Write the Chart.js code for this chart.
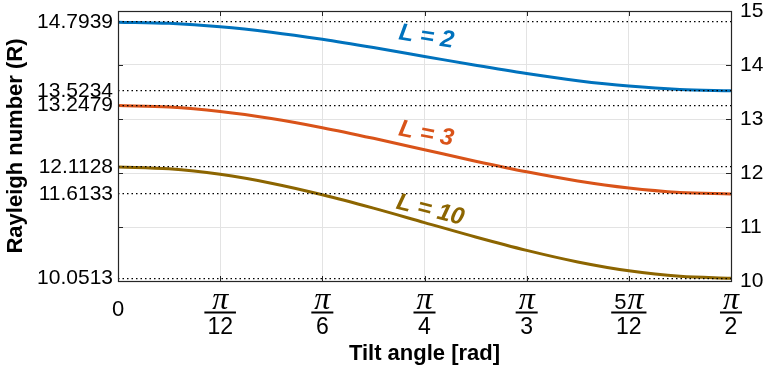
<!DOCTYPE html>
<html>
<head>
<meta charset="utf-8">
<script src="https://cdn.jsdelivr.net/npm/chart.js@4"></script>
<style>
  html, body { margin: 0; padding: 0; background: #fff; }
</style>
</head>
<body>
<canvas id="rayleighChart" width="768" height="368"></canvas>
<script>
// tilt angle samples [rad], every pi/24
const tilt = [0, 0.1309, 0.2618, 0.3927, 0.5236, 0.6545, 0.7854, 0.9163, 1.0472, 1.1781, 1.3090, 1.4399, 1.5708];

// critical Rayleigh number for each L
const rayleighL2 = [14.7939, 14.772, 14.709, 14.608, 14.476, 14.323, 14.159, 13.994, 13.841, 13.710, 13.609, 13.545, 13.5234];
const rayleighL3 = [13.2479, 13.220, 13.138, 13.009, 12.839, 12.642, 12.431, 12.219, 12.022, 11.853, 11.723, 11.641, 11.6133];
const rayleighL10 = [12.1128, 12.078, 11.975, 11.811, 11.597, 11.349, 11.082, 10.815, 10.567, 10.353, 10.189, 10.086, 10.0513];

// left axis marks the end values of each curve, right axis is a plain scale
const leftTicks = [10.0513, 11.6133, 12.1128, 13.2479, 13.5234, 14.7939];
const rightTicks = [10, 11, 12, 13, 14, 15];
const xTicks = [0, Math.PI / 12, Math.PI / 6, Math.PI / 4, Math.PI / 3, 5 * Math.PI / 12, Math.PI / 2];
const xTickLabels = [['0'], ['π', '12'], ['π', '6'], ['π', '4'], ['π', '3'], ['5π', '12'], ['π', '2']];

const SANS = '"Liberation Sans", Arial, Helvetica, sans-serif';
const PI_FONT = 'italic 32px "Liberation Serif", "Times New Roman", serif';
const AXIS_COLOR = '#262626';

const blue = '#0072bd';
const orange = '#d95319';
const gold = '#8c6500';

// text placed along each curve
const curveLabels = [
  { text: 'L = 2', x: 0.79, y: 14.52, angle: 9, color: blue },
  { text: 'L = 3', x: 0.79, y: 12.72, angle: 11, color: orange },
  { text: 'L = 10', x: 0.80, y: 11.31, angle: 14, color: gold }
];

function curve(values, color) {
  return {
    data: tilt.map((t, i) => ({ x: t, y: values[i] })),
    borderColor: color,
    borderWidth: 3,
    pointRadius: 0,
    cubicInterpolationMode: 'monotone',
    yAxisID: 'y',
    order: 0
  };
}

const decor = {
  id: 'decor',
  afterDraw(chart) {
    const ctx = chart.ctx;
    const area = chart.chartArea;
    const xs = chart.scales.x;
    const ys = chart.scales.y2;
    ctx.save();

    // box around the plot
    ctx.strokeStyle = AXIS_COLOR;
    ctx.lineWidth = 1.2;
    ctx.strokeRect(Math.round(area.left) + 0.5, Math.round(area.top) + 0.5,
      Math.round(area.right - area.left), Math.round(area.bottom - area.top));

    // inward tick marks
    ctx.lineWidth = 1;
    ctx.beginPath();
    rightTicks.forEach(v => {
      const py = Math.round(ys.getPixelForValue(v)) + 0.5;
      ctx.moveTo(area.left, py); ctx.lineTo(area.left + 5, py);
      ctx.moveTo(area.right, py); ctx.lineTo(area.right - 5, py);
    });
    xTicks.forEach(v => {
      const px = Math.round(xs.getPixelForValue(v)) + 0.5;
      ctx.moveTo(px, area.top); ctx.lineTo(px, area.top + 5);
      ctx.moveTo(px, area.bottom); ctx.lineTo(px, area.bottom - 5);
    });
    ctx.stroke();

    // x tick labels as fractions of pi
    ctx.fillStyle = '#000';
    xTicks.forEach((v, i) => {
      const px = xs.getPixelForValue(v);
      const parts = xTickLabels[i];
      if (parts.length === 1) {
        ctx.font = '22px ' + SANS;
        ctx.textAlign = 'center';
        ctx.textBaseline = 'alphabetic';
        ctx.fillText(parts[0], px, 316);
        return;
      }
      const coef = parts[0].slice(0, -1);
      ctx.font = '22px ' + SANS;
      const cw = coef ? ctx.measureText(coef).width + 1 : 0;
      ctx.font = PI_FONT;
      const pw = ctx.measureText('π').width;
      const nw = cw + pw;
      ctx.font = '23px ' + SANS;
      const dw = ctx.measureText(parts[1]).width;
      const barW = Math.max(nw, dw) + 6;
      const sx = px - nw / 2;
      ctx.textAlign = 'left';
      ctx.textBaseline = 'alphabetic';
      if (coef) {
        ctx.font = '22px ' + SANS;
        ctx.fillText(coef, sx, 309);
      }
      ctx.font = PI_FONT;
      ctx.fillText('π', sx + cw, 309);
      ctx.fillRect(px - barW / 2, 311.5, barW, 2);
      ctx.textAlign = 'center';
      ctx.font = '23px ' + SANS;
      ctx.fillText(parts[1], px, 334);
    });

    // curve names
    ctx.font = 'italic bold 24px ' + SANS;
    ctx.textAlign = 'center';
    ctx.textBaseline = 'middle';
    curveLabels.forEach(l => {
      ctx.save();
      ctx.translate(xs.getPixelForValue(l.x), ys.getPixelForValue(l.y));
      ctx.rotate(l.angle * Math.PI / 180);
      ctx.fillStyle = l.color;
      ctx.fillText(l.text, 0, 0);
      ctx.restore();
    });
    ctx.restore();
  }
};

new Chart(document.getElementById('rayleighChart').getContext('2d'), {
  type: 'line',
  data: {
    datasets: [
      curve(rayleighL2, blue),
      curve(rayleighL3, orange),
      curve(rayleighL10, gold)
    ]
  },
  options: {
    responsive: false,
    animation: false,
    layout: { padding: { top: 11, left: 0, right: 0, bottom: 0 } },
    plugins: { legend: { display: false }, tooltip: { enabled: false } },
    scales: {
      x: {
        type: 'linear',
        min: 0,
        max: Math.PI / 2,
        afterBuildTicks: scale => { scale.ticks = xTicks.map(v => ({ value: v })); },
        afterFit: scale => { scale.height = 87; scale.paddingLeft = 0; scale.paddingRight = 0; },
        ticks: { display: false },
        grid: { color: '#e3e3e3', lineWidth: 1, drawTicks: false },
        border: { display: false },
        title: {
          display: true,
          text: 'Tilt angle [rad]',
          color: '#000',
          font: { family: SANS, size: 22, weight: 'bold' },
          padding: { top: 0, bottom: 1 }
        }
      },
      y: {
        position: 'left',
        min: 10,
        max: 15,
        afterBuildTicks: scale => { scale.ticks = leftTicks.map(v => ({ value: v })); },
        afterFit: scale => { scale.width = 118; scale.paddingTop = 0; scale.paddingBottom = 0; },
        ticks: {
          autoSkip: false,
          padding: 5,
          color: '#000',
          font: { family: SANS, size: 21 },
          callback: v => v.toFixed(4)
        },
        grid: { color: '#000', lineWidth: 1.3, drawTicks: false, z: 1 },
        border: { display: false, dash: [1.5, 3] },
        title: {
          display: true,
          text: 'Rayleigh number (R)',
          color: '#000',
          font: { family: SANS, size: 22, weight: 'bold' },
          padding: { top: 3, bottom: 0 }
        }
      },
      y2: {
        position: 'right',
        min: 10,
        max: 15,
        afterBuildTicks: scale => { scale.ticks = rightTicks.map(v => ({ value: v })); },
        afterFit: scale => { scale.width = 37; scale.paddingTop = 0; scale.paddingBottom = 0; },
        ticks: {
          autoSkip: false,
          padding: 9,
          color: '#000',
          font: { family: SANS, size: 21 }
        },
        grid: { color: '#e3e3e3', lineWidth: 1, drawTicks: false },
        border: { display: false }
      }
    }
  },
  plugins: [decor]
});
</script>
</body>
</html>
